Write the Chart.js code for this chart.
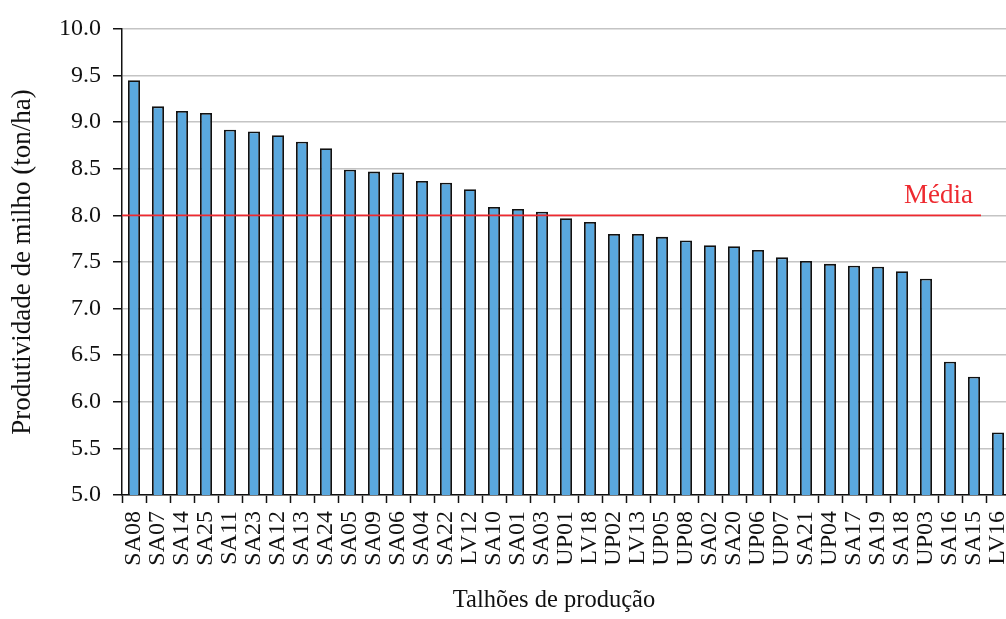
<!DOCTYPE html>
<html>
<head>
<meta charset="utf-8">
<script src="https://cdn.jsdelivr.net/npm/chart.js@4/dist/chart.umd.min.js"></script>
<style>
  html, body { margin: 0; padding: 0; background: #fff; overflow: hidden; }
  #wrap { width: 1010px; height: 619px; }
</style>
</head>
<body>
<div id="wrap"><canvas id="c" width="1010" height="619"></canvas></div>
<script>
// Talhões (production plots), sorted by yield
const talhoes = [
  'SA08','SA07','SA14','SA25','SA11','SA23','SA12','SA13','SA24','SA05',
  'SA09','SA06','SA04','SA22','LV12','SA10','SA01','SA03','UP01','LV18',
  'UP02','LV13','UP05','UP08','SA02','SA20','UP06','UP07','SA21','UP04',
  'SA17','SA19','SA18','UP03','SA16','SA15','LV16'
];
// Corn yield, ton/ha
const produtividade = [
  9.45, 9.17, 9.12, 9.10, 8.92, 8.90, 8.86, 8.79, 8.72, 8.49,
  8.47, 8.46, 8.37, 8.35, 8.28, 8.09, 8.07, 8.04, 7.97, 7.93,
  7.80, 7.80, 7.77, 7.73, 7.68, 7.67, 7.63, 7.55, 7.51, 7.48,
  7.46, 7.45, 7.40, 7.32, 6.43, 6.27, 5.67
];
// Mean yield reference line
const media = 8.0;
const mediaLabel = 'Média';
const yTicks = [5.0, 5.5, 6.0, 6.5, 7.0, 7.5, 8.0, 8.5, 9.0, 9.5, 10.0];
const xTitle = 'Talhões de produção';
const yTitle = 'Produtividade de milho (ton/ha)';

const SERIF = '"Liberation Serif", "DejaVu Serif", serif';

// Draws the red mean line with its label, and the category-axis title
const mediaLine = {
  id: 'mediaLine',
  afterDatasetsDraw(chart) {
    const { ctx, chartArea, scales } = chart;
    const y = scales.y.getPixelForValue(media);
    const xEnd = scales.x.getPixelForValue(talhoes.length - 2) + 7;
    ctx.save();
    ctx.strokeStyle = '#ee2a30';
    ctx.lineWidth = 1.6;
    ctx.beginPath();
    ctx.moveTo(chartArea.left, y);
    ctx.lineTo(xEnd, y);
    ctx.stroke();
    ctx.fillStyle = '#ee2a30';
    ctx.font = '27px ' + SERIF;
    ctx.textAlign = 'right';
    ctx.textBaseline = 'alphabetic';
    ctx.fillText(mediaLabel, xEnd - 8, y - 12);

    ctx.fillStyle = '#111';
    ctx.font = '24.5px ' + SERIF;
    ctx.textAlign = 'center';
    ctx.fillText(xTitle, (chartArea.left + chartArea.right) / 2 - 12, chart.height - 12);
    ctx.restore();
  }
};

new Chart(document.getElementById('c'), {
  type: 'bar',
  data: {
    labels: talhoes,
    datasets: [{
      data: produtividade,
      backgroundColor: '#5aa8de',
      borderColor: '#111111',
      borderWidth: 1.8,
      barPercentage: 0.5,
      categoryPercentage: 1.0
    }]
  },
  options: {
    responsive: false,
    animation: false,
    layout: { padding: { top: 29, left: 0, right: 0, bottom: 0 } },
    plugins: { legend: { display: false }, tooltip: { enabled: false } },
    scales: {
      x: {
        afterFit(s) { s.height = 124; s.paddingLeft = 0; s.paddingRight = 0; },
        grid: {
          offset: true,
          drawOnChartArea: false,
          drawTicks: true,
          tickLength: 8,
          tickColor: '#111',
          tickWidth: 1.5
        },
        border: { color: '#111', width: 1.5 },
        ticks: {
          color: '#111',
          font: { family: SERIF, size: 24 },
          minRotation: 90,
          maxRotation: 90,
          autoSkip: false,
          padding: 8
        }
      },
      y: {
        min: 5,
        max: 10,
        afterFit(s) { s.width = 122; },
        afterBuildTicks(s) { s.ticks = yTicks.map(v => ({ value: v })); },
        grid: {
          color: '#c4c4c4',
          lineWidth: 1.5,
          drawTicks: true,
          tickLength: 9,
          tickColor: '#111',
          tickWidth: 1.5
        },
        border: { color: '#111', width: 1.5 },
        ticks: {
          color: '#111',
          font: { family: SERIF, size: 24 },
          padding: 12,
          callback: v => Number(v).toFixed(1)
        },
        title: {
          display: true,
          text: yTitle,
          color: '#111',
          font: { family: SERIF, size: 27 },
          padding: { top: 7, bottom: 0 }
        }
      }
    }
  },
  plugins: [mediaLine]
});
</script>
</body>
</html>
